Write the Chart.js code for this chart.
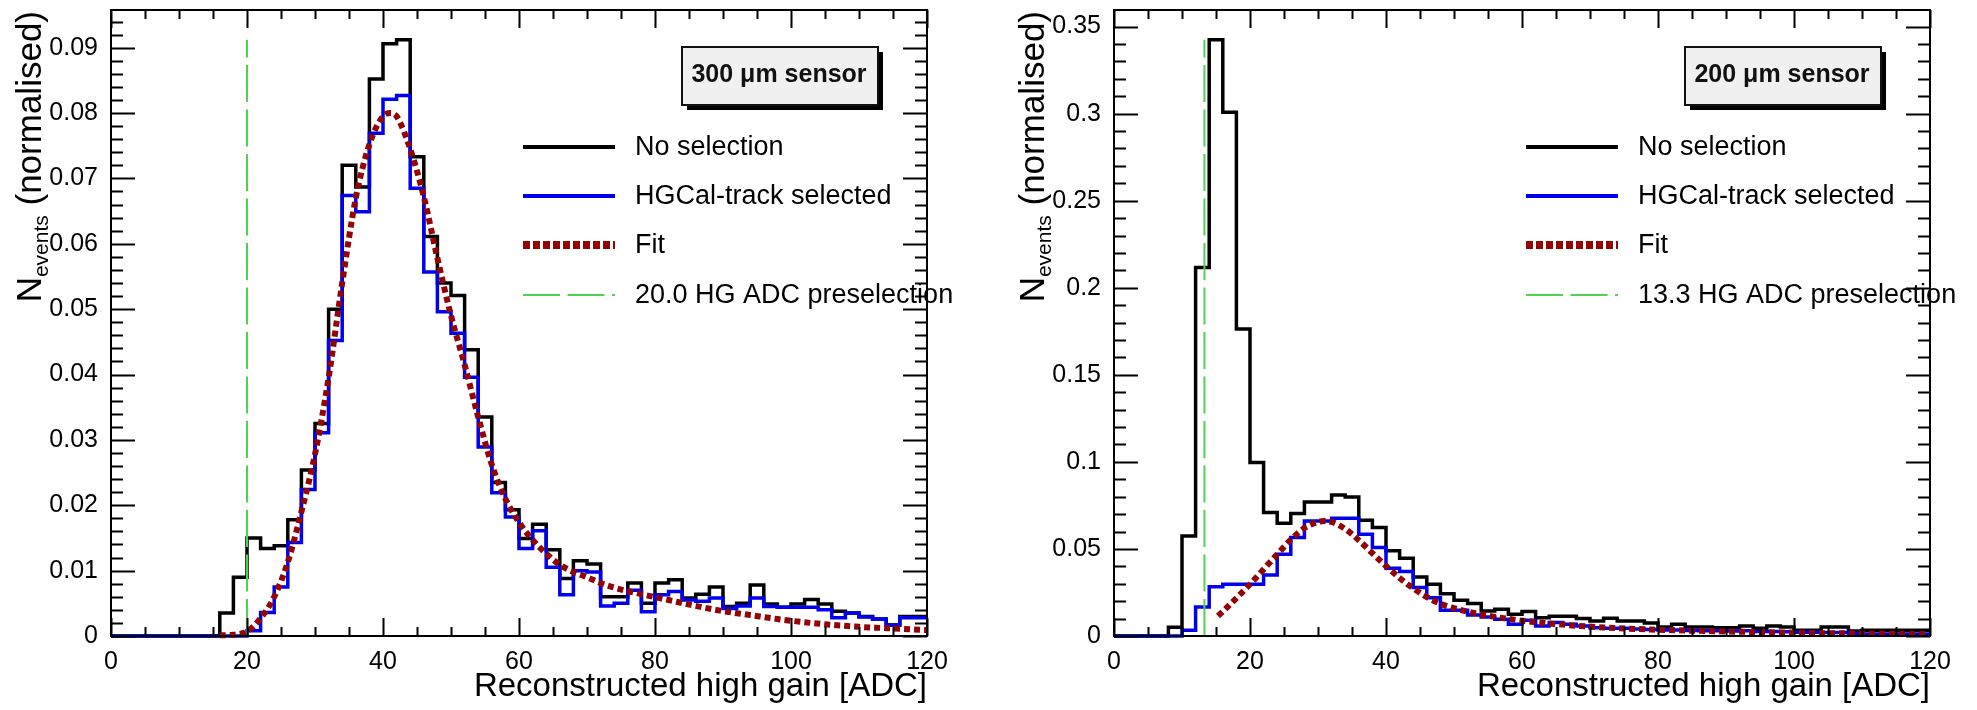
<!DOCTYPE html>
<html>
<head>
<meta charset="utf-8">
<title>HG ADC spectra</title>
<script src="https://cdn.jsdelivr.net/npm/chart.js@4.4.1/dist/chart.umd.min.js"></script>
<style>
  html, body { margin: 0; padding: 0; background: #ffffff; }
  #wrap { position: relative; width: 1977px; height: 710px; overflow: hidden; background: #ffffff; }
  canvas { position: absolute; top: 0; }
</style>
</head>
<body>
<div id="wrap">
  <canvas id="c300" width="988" height="710" style="left:0px"></canvas>
  <canvas id="c200" width="989" height="710" style="left:988px"></canvas>
</div>
<script>
// ---- binning and axis labels ----
const binEdges = [0, 2, 4, 6, 8, 10, 12, 14, 16, 18, 20, 22, 24, 26, 28, 30, 32, 34, 36, 38,
  40, 42, 44, 46, 48, 50, 52, 54, 56, 58, 60, 62, 64, 66, 68, 70, 72, 74, 76, 78,
  80, 82, 84, 86, 88, 90, 92, 94, 96, 98, 100, 102, 104, 106, 108, 110, 112, 114, 116, 118, 120];

const xTicks = [0, 20, 40, 60, 80, 100, 120];
const xTickText = ['0', '20', '40', '60', '80', '100', '120'];
const xTitle = 'Reconstructed high gain [ADC]';

const yTicks300 = [0, 0.01, 0.02, 0.03, 0.04, 0.05, 0.06, 0.07, 0.08, 0.09];
const yTickText300 = ['0', '0.01', '0.02', '0.03', '0.04', '0.05', '0.06', '0.07', '0.08', '0.09'];
const yTicks200 = [0, 0.05, 0.1, 0.15, 0.2, 0.25, 0.3, 0.35];
const yTickText200 = ['0', '0.05', '0.1', '0.15', '0.2', '0.25', '0.3', '0.35'];

// ---- 300 um sensor ----
const sensor300 = '300 \u03bcm sensor';
const cut300 = 20.0;
const noSel300 = [0, 0, 0, 0, 0, 0, 0, 0, 0.0035, 0.0090,
  0.0150, 0.0134, 0.0138, 0.0178, 0.0254, 0.0325, 0.0500, 0.0720, 0.0687, 0.0852,
  0.0906, 0.0912, 0.0733, 0.0611, 0.0540, 0.0521, 0.0438, 0.0335, 0.0235, 0.0193,
  0.0149, 0.0171, 0.0132, 0.0088, 0.0115, 0.0110, 0.0060, 0.0060, 0.0081, 0.0050,
  0.0081, 0.0086, 0.0058, 0.0064, 0.0075, 0.0045, 0.0050, 0.0078, 0.0049, 0.0044,
  0.0049, 0.0056, 0.0049, 0.0038, 0.0035, 0.0030, 0.0026, 0.0017, 0.0030, 0.0030];
const track300 = [0, 0, 0, 0, 0, 0, 0, 0, 0, 0,
  0.0008, 0.0036, 0.0075, 0.0143, 0.0224, 0.0311, 0.0452, 0.0674, 0.0649, 0.0769,
  0.0821, 0.0827, 0.0685, 0.0557, 0.0496, 0.0463, 0.0396, 0.0289, 0.0219, 0.0182,
  0.0134, 0.0161, 0.0105, 0.0063, 0.0100, 0.0098, 0.0046, 0.0050, 0.0070, 0.0037,
  0.0063, 0.0068, 0.0055, 0.0053, 0.0058, 0.0042, 0.0046, 0.0058, 0.0045, 0.0044,
  0.0044, 0.0044, 0.0040, 0.0028, 0.0035, 0.0029, 0.0026, 0.0017, 0.0028, 0.0028];
const fitX300 = [16, 18, 20, 22, 24, 26, 28, 30, 32, 34, 36, 38, 40, 41, 42, 44, 46, 48, 50, 52,
  54, 56, 58, 60, 62, 64, 66, 68, 70, 72, 74, 78, 82, 86, 90, 94, 98, 102, 106, 110, 114, 118, 120];
const fitY300 = [0.0001, 0.0002, 0.0007, 0.0027, 0.0060, 0.0113, 0.0190, 0.0278, 0.0395, 0.0540,
  0.0670, 0.0752, 0.0795, 0.0800, 0.0795, 0.0745, 0.0672, 0.0578, 0.0490, 0.0415,
  0.0335, 0.0262, 0.0210, 0.0174, 0.0147, 0.0126, 0.0109, 0.0098, 0.0090, 0.0081,
  0.0074, 0.0064, 0.0055, 0.0046, 0.0038, 0.0032, 0.0026, 0.0021, 0.0017, 0.0014,
  0.0012, 0.0010, 0.0009];

// ---- 200 um sensor ----
const sensor200 = '200 \u03bcm sensor';
const cut200 = 13.3;
const noSel200 = [0, 0, 0, 0, 0.0050, 0.0575, 0.2117, 0.3424, 0.3008, 0.1763,
  0.0996, 0.0709, 0.0647, 0.0703, 0.0770, 0.0770, 0.0810, 0.0799, 0.0665, 0.0623,
  0.0489, 0.0446, 0.0339, 0.0297, 0.0243, 0.0205, 0.0186, 0.0144, 0.0153, 0.0125,
  0.0140, 0.0105, 0.0113, 0.0113, 0.0100, 0.0086, 0.0102, 0.0086, 0.0086, 0.0075,
  0.0052, 0.0067, 0.0052, 0.0052, 0.0048, 0.0048, 0.0057, 0.0044, 0.0057, 0.0052,
  0.0033, 0.0033, 0.0052, 0.0052, 0.0029, 0.0033, 0.0033, 0.0033, 0.0033, 0.0033];
const track200 = [0, 0, 0, 0, 0, 0.0033, 0.0167, 0.0283, 0.0297, 0.0297,
  0.0297, 0.0351, 0.0469, 0.0565, 0.0661, 0.0661, 0.0676, 0.0676, 0.0584, 0.0508,
  0.0389, 0.0370, 0.0278, 0.0220, 0.0148, 0.0148, 0.0121, 0.0109, 0.0096, 0.0067,
  0.0090, 0.0057, 0.0077, 0.0067, 0.0057, 0.0048, 0.0045, 0.0045, 0.0040, 0.0038,
  0.0035, 0.0035, 0.0032, 0.0030, 0.0030, 0.0028, 0.0030, 0.0026, 0.0026, 0.0024,
  0.0022, 0.0022, 0.0020, 0.0020, 0.0015, 0.0012, 0.0012, 0.0011, 0.0011, 0.0011];
const fitX200 = [15.3, 16, 18, 20, 22, 24, 26, 28, 30, 31, 32, 34, 36, 38, 40, 42, 44, 46, 48, 50,
  52, 56, 60, 64, 68, 72, 80, 90, 100, 110, 120];
const fitY200 = [0.0115, 0.0140, 0.0218, 0.0297, 0.0383, 0.0469, 0.0553, 0.0620, 0.0655, 0.0660,
  0.0655, 0.0615, 0.0550, 0.0475, 0.0402, 0.0333, 0.0274, 0.0224, 0.0185, 0.0160,
  0.0140, 0.0110, 0.0088, 0.0072, 0.0059, 0.0049, 0.0036, 0.0026, 0.0019, 0.0014, 0.0011];

// ---- styling ----
const FONT = '"Liberation Sans", Arial, Helvetica, sans-serif';
const BLACK = '#000000';
const BLUE = '#0000ee';
const RED = '#930404';
const GREEN = '#4fd24f';

Chart.defaults.font.family = FONT;
Chart.defaults.color = '#000000';

// step-histogram outline: one point per bin edge, the last edge repeats the last bin
function histPoints(vals) {
  return binEdges.map((x, i) => ({ x: x, y: vals[Math.min(i, vals.length - 1)] }));
}

function onStep(v, step) {
  const r = v / step;
  return Math.abs(r - Math.round(r)) < 1e-6;
}

// ROOT-like frame: inward ticks on all four sides, axis title with subscript,
// shadowed label box and a frameless legend
const rootStyle = {
  id: 'rootStyle',
  afterDatasetsDraw(chart, args, o) {
    const { ctx, chartArea: a, scales } = chart;
    const x = scales.x, y = scales.y;
    ctx.save();

    // ticks
    ctx.strokeStyle = '#000';
    ctx.lineWidth = 2;
    ctx.lineCap = 'butt';
    ctx.beginPath();
    const nx = Math.round((x.max - x.min) / o.xMinor);
    for (let k = 0; k <= nx; k++) {
      const v = x.min + k * o.xMinor;
      const px = Math.round(x.getPixelForValue(v)) + 0.5;
      const len = onStep(v, o.xMajor) ? 18 : 9;
      ctx.moveTo(px, a.bottom); ctx.lineTo(px, a.bottom - len);
      ctx.moveTo(px, a.top); ctx.lineTo(px, a.top + len);
    }
    for (let k = 0; k * o.yMinor <= y.max + 1e-12; k++) {
      const v = k * o.yMinor;
      const py = Math.round(y.getPixelForValue(v)) + 0.5;
      const len = onStep(v, o.yMajor) ? 24 : 12;
      ctx.moveTo(a.left, py); ctx.lineTo(a.left + len, py);
      ctx.moveTo(a.right, py); ctx.lineTo(a.right - len, py);
    }
    ctx.stroke();

    // frame
    ctx.lineWidth = 2;
    ctx.strokeRect(a.left, a.top, a.right - a.left, a.bottom - a.top);

    // y-axis title: N_{events} (normalised), rotated, aligned to the top
    ctx.save();
    ctx.translate(a.left - 70, a.top + 1);
    ctx.rotate(-Math.PI / 2);
    ctx.fillStyle = '#000';
    ctx.textBaseline = 'alphabetic';
    ctx.textAlign = 'left';
    const big = '35px ' + FONT, small = '21px ' + FONT;
    ctx.font = big; const wN = ctx.measureText('N').width;
    const rest = ' (normalised)'; const wR = ctx.measureText(rest).width;
    ctx.font = small; const wS = ctx.measureText('events').width;
    let cx = -(wN + wS + wR);
    ctx.font = big; ctx.fillText('N', cx, 0); cx += wN;
    ctx.font = small; ctx.fillText('events', cx, 7); cx += wS;
    ctx.font = big; ctx.fillText(rest, cx, 0);
    ctx.restore();

    // sensor label box with drop shadow
    const bx = a.left + 571, by = 47, bw = 196, bh = 58;
    ctx.fillStyle = '#000';
    ctx.fillRect(bx + 5, by + 5, bw, bh);
    ctx.fillStyle = '#f0f0f0';
    ctx.fillRect(bx, by, bw, bh);
    ctx.strokeStyle = '#111';
    ctx.lineWidth = 2;
    ctx.strokeRect(bx, by, bw, bh);
    ctx.fillStyle = '#111';
    ctx.font = 'bold 25px ' + FONT;
    ctx.textAlign = 'center';
    ctx.textBaseline = 'middle';
    ctx.fillText(o.tag, bx + bw / 2 - 1, by + bh / 2 - 1);

    // legend
    const rows = [137, 186, 235, 285];
    const styles = [
      { w: 4, dash: [] },
      { w: 4, dash: [] },
      { w: 8, dash: [7, 3] },
      { w: 2, dash: [37, 7.5] }
    ];
    chart.data.datasets.forEach((ds, i) => {
      const ly = a.top + rows[i];
      ctx.save();
      ctx.strokeStyle = ds.borderColor;
      ctx.lineWidth = styles[i].w;
      ctx.setLineDash(styles[i].dash);
      ctx.lineCap = 'butt';
      ctx.beginPath();
      ctx.moveTo(a.left + 412, ly);
      ctx.lineTo(a.left + 504, ly);
      ctx.stroke();
      ctx.restore();
      ctx.fillStyle = '#000';
      ctx.font = '27px ' + FONT;
      ctx.textAlign = 'left';
      ctx.textBaseline = 'middle';
      ctx.fillText(ds.label, a.left + 524, ly + 1);
    });

    ctx.restore();
  }
};

function makePanel(id, p) {
  const peak = Math.max(...p.noSel);
  return new Chart(document.getElementById(id).getContext('2d'), {
    type: 'line',
    data: {
      datasets: [
        { label: 'No selection', data: histPoints(p.noSel), borderColor: BLACK, borderWidth: 3.5,
          stepped: 'before', pointRadius: 0, order: 4, clip: 5, borderJoinStyle: 'miter', fill: false },
        { label: 'HGCal-track selected', data: histPoints(p.track), borderColor: BLUE, borderWidth: 3.5,
          stepped: 'before', pointRadius: 0, order: 3, clip: 5, borderJoinStyle: 'miter', fill: false },
        { label: 'Fit', data: p.fitX.map((x, i) => ({ x: x, y: p.fitY[i] })), borderColor: RED, borderWidth: 6,
          borderDash: [6, 4], borderCapStyle: 'butt', cubicInterpolationMode: 'monotone',
          pointRadius: 0, order: 2, clip: 5, fill: false },
        { label: p.cut.toFixed(1) + ' HG ADC preselection', data: [{ x: p.cut, y: 0 }, { x: p.cut, y: peak }],
          borderColor: GREEN, borderWidth: 2, borderDash: [37, 7.5], pointRadius: 0, order: 1, fill: false }
      ]
    },
    options: {
      responsive: false,
      animation: false,
      events: [],
      layout: { padding: { left: 0, top: 10, right: p.padRight, bottom: 0 } },
      scales: {
        x: {
          type: 'linear', min: 0, max: 120,
          grid: { display: false }, border: { display: false },
          afterFit: (s) => { s.height = 74; s.paddingLeft = 0; s.paddingRight = 0; },
          afterBuildTicks: (s) => { s.ticks = xTicks.map(v => ({ value: v })); },
          ticks: { autoSkip: false, maxRotation: 0, padding: 3, font: { size: 25 }, color: '#000',
            callback: (v) => xTickText[xTicks.indexOf(v)] },
          title: { display: true, text: xTitle, align: 'end', color: '#000',
            font: { size: 33 }, padding: { top: 0, bottom: 3 } }
        },
        y: {
          type: 'linear', min: 0, max: peak * 1.05,
          grid: { display: false }, border: { display: false },
          afterFit: (s) => { s.width = p.axisWidth; s.paddingTop = 0; s.paddingBottom = 0; },
          afterBuildTicks: (s) => { s.ticks = p.yTicks.map(v => ({ value: v })); },
          ticks: { autoSkip: false, padding: 5, font: { size: 25 }, color: '#000',
            callback: (v) => p.yTickText[p.yTicks.indexOf(v)] }
        }
      },
      plugins: {
        legend: { display: false },
        tooltip: { enabled: false },
        rootStyle: { tag: p.tag, xMinor: 5, xMajor: 20, yMinor: p.yMinor, yMajor: p.yMajor }
      }
    },
    plugins: [rootStyle]
  });
}

makePanel('c300', {
  noSel: noSel300, track: track300, fitX: fitX300, fitY: fitY300, cut: cut300,
  yTicks: yTicks300, yTickText: yTickText300, yMinor: 0.002, yMajor: 0.01,
  tag: sensor300, axisWidth: 111, padRight: 61
});
makePanel('c200', {
  noSel: noSel200, track: track200, fitX: fitX200, fitY: fitY200, cut: cut200,
  yTicks: yTicks200, yTickText: yTickText200, yMinor: 0.01, yMajor: 0.05,
  tag: sensor200, axisWidth: 126, padRight: 47
});
</script>
</body>
</html>
